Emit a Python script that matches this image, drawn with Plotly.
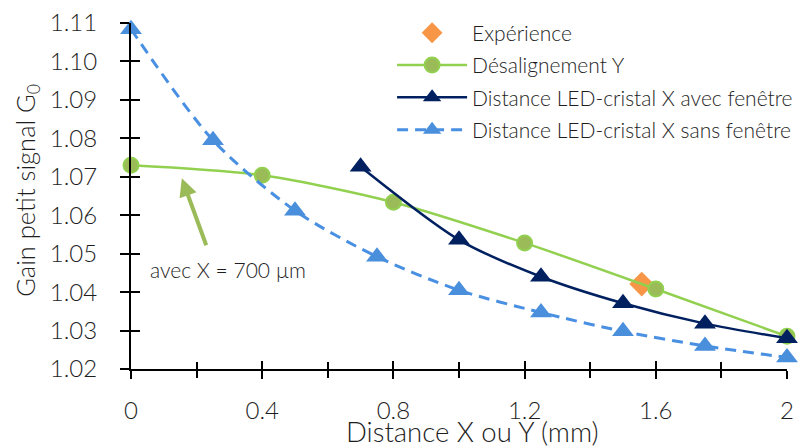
import plotly.graph_objects as go

# Data
x_sans = [0, 0.25, 0.5, 0.75, 1.0, 1.25, 1.5, 1.75, 2.0]
y_sans = [1.1084, 1.0795, 1.0612, 1.0492, 1.0405, 1.0347, 1.0298, 1.0260, 1.0230]

x_avec = [0.7, 1.0, 1.25, 1.5, 1.75, 2.0]
y_avec = [1.0726, 1.0536, 1.0440, 1.0371, 1.0318, 1.0280]

x_desal = [0, 0.4, 0.8, 1.2, 1.6, 2.0]
y_desal = [1.0730, 1.0704, 1.0634, 1.0528, 1.0408, 1.0285]

x_exp = [1.557]
y_exp = [1.0421]

x_ticks = [0, 0.4, 0.8, 1.2, 1.6, 2]
x_ticklabels = ["0", "0.4", "0.8", "1.2", "1.6", "2"]
y_ticks = [1.02, 1.03, 1.04, 1.05, 1.06, 1.07, 1.08, 1.09, 1.10, 1.11]
y_ticklabels = ["1.02", "1.03", "1.04", "1.05", "1.06", "1.07", "1.08", "1.09", "1.10", "1.11"]

FONT = "Lato"
TXT = "#1e1e1e"
TICK_SIZE = 24
W = 300
Y_RANGE = [1.02, 1.11001]

fig = go.Figure()

fig.add_trace(go.Scatter(
    x=x_exp, y=y_exp, mode="markers", name="Expérience", legendgroup="a",
    marker=dict(symbol="diamond", size=19, color="#F79646"),
    cliponaxis=False))
fig.add_trace(go.Scatter(
    x=x_desal, y=y_desal, mode="lines+markers", name="Désalignement Y", legendgroup="b",
    line=dict(color="#92D050", width=2.5, shape="spline", smoothing=0.8),
    marker=dict(symbol="circle", size=15, color="#9BBB59",
                line=dict(color="#92D050", width=2)),
    cliponaxis=False))
fig.add_trace(go.Scatter(
    x=x_avec, y=y_avec, mode="lines+markers", name="Distance LED-cristal X avec fenêtre",
    legendgroup="c",
    line=dict(color="#002060", width=2.5, shape="spline", smoothing=0.8),
    marker=dict(symbol="triangle-up", size=19, color="#002060"),
    cliponaxis=False))
fig.add_trace(go.Scatter(
    x=x_sans, y=y_sans, mode="lines+markers", name="Distance LED-cristal X sans fenêtre",
    legendgroup="d",
    line=dict(color="#4A90E2", width=3, dash="11px,7px", shape="spline", smoothing=0.8),
    marker=dict(symbol="triangle-up", size=19, color="#4A8FDC"),
    cliponaxis=False))

# invisible trace for overlay axes (inner half of crossing ticks)
fig.add_trace(go.Scatter(x=[None], y=[None], xaxis="x2", yaxis="y2",
                         showlegend=False, hoverinfo="skip"))

# arrow annotation
fig.add_annotation(x=0.155, y=1.0696, ax=0.231, ay=1.0518, axref="x", ayref="y",
                   xref="x", yref="y", text="", showarrow=True,
                   arrowhead=2, arrowsize=0.9, arrowwidth=4, arrowcolor="#9BBB59")
fig.add_annotation(x=0.296, y=1.0458, xref="x", yref="y", text="avec X = 700 µm",
                   showarrow=False, font=dict(family=FONT, size=21, color=TXT, weight=W))

# axis titles
fig.add_annotation(x=0.52, y=-0.181, xref="paper", yref="paper",
                   xanchor="center", yanchor="middle",
                   text="Distance X ou Y (mm)", showarrow=False,
                   font=dict(family=FONT, size=27.5, color=TXT, weight=W))
fig.add_annotation(x=-0.158, y=0.516, xref="paper", yref="paper", textangle=-90,
                   xanchor="center", yanchor="middle",
                   text="Gain petit signal G<sub>0</sub>", showarrow=False,
                   font=dict(family=FONT, size=25.5, color=TXT, weight=W))

axis_common = dict(showgrid=False, zeroline=False, automargin=False)

# page body has an 8px default margin: size the figure so the plot area lands where the reference has it
fig.update_layout(
    width=798, height=438,
    margin=dict(l=123, r=19, t=15, b=77, autoexpand=False),
    paper_bgcolor="white", plot_bgcolor="white",
    font=dict(family=FONT, color=TXT, weight=W),
    xaxis=dict(range=[0, 2], tickvals=x_ticks, ticktext=x_ticklabels,
               ticks="outside", ticklen=8, tickwidth=2, tickcolor="black",
               showline=True, linecolor="black", linewidth=2,
               minor=dict(dtick=0.2, tick0=0, ticks="outside", ticklen=7, tickwidth=1.5, tickcolor="black"),
               tickfont=dict(family=FONT, size=TICK_SIZE, color=TXT, weight=W),
               ticklabelstandoff=11, ticklabeloverflow="allow",
               **axis_common),
    yaxis=dict(range=Y_RANGE, tickvals=y_ticks, ticktext=y_ticklabels,
               ticks="outside", ticklen=9, tickwidth=2, tickcolor="black",
               showline=True, linecolor="black", linewidth=2,
               tickfont=dict(family=FONT, size=TICK_SIZE, color=TXT, weight=W),
               ticklabelstandoff=18, ticklabeloverflow="allow",
               **axis_common),
    xaxis2=dict(range=[0, 2], overlaying="x", anchor="y2", tickvals=x_ticks,
                ticks="inside", ticklen=8, tickwidth=2, tickcolor="black",
                showticklabels=False, showline=False,
                minor=dict(dtick=0.2, tick0=0, ticks="inside", ticklen=7, tickwidth=1.5, tickcolor="black"),
                **axis_common),
    yaxis2=dict(range=Y_RANGE, overlaying="y", anchor="x2", tickvals=y_ticks,
                ticks="inside", ticklen=9, tickwidth=2, tickcolor="black",
                showticklabels=False, showline=False, **axis_common),
    legend=dict(x=0.398, y=1.030, xanchor="left", yanchor="top",
                bgcolor="rgba(0,0,0,0)", font=dict(family=FONT, size=21, color=TXT, weight=W),
                tracegroupgap=2, itemwidth=70),
    showlegend=True,
)

fig.write_html("out.html")
